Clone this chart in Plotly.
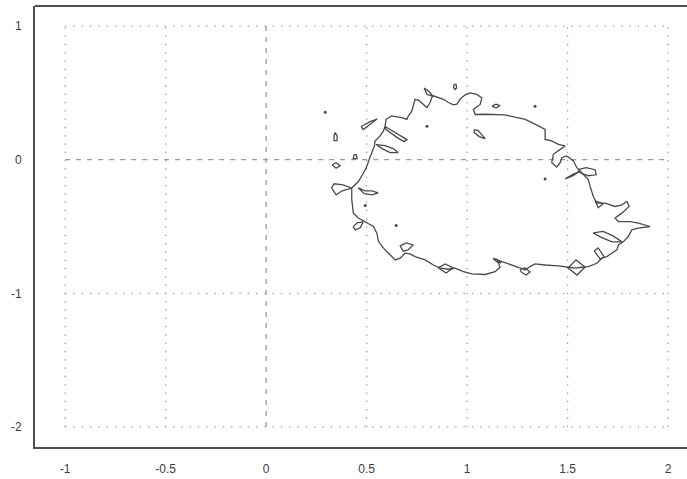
import plotly.graph_objects as go

# ---- data ----
x_ticks = [-1, -0.5, 0, 0.5, 1, 1.5, 2]
x_tick_labels = ["-1", "-0.5", "0", "0.5", "1", "1.5", "2"]
y_ticks = [-2, -1, 0, 1]
y_tick_labels = ["-2", "-1", "0", "1"]

main_x = [0.426, 0.458, 0.484, 0.501, 0.512, 0.526, 0.539, 0.542, 0.567, 0.584,
          0.592, 0.597, 0.625, 0.650, 0.675, 0.700, 0.708, 0.725, 0.733, 0.741,
          0.758, 0.783, 0.800, 0.816, 0.824, 0.832, 0.857, 0.882, 0.907, 0.932,
          0.949, 0.965, 0.990, 1.015, 1.048, 1.073, 1.065, 1.031, 1.040, 1.090,
          1.189, 1.289, 1.355, 1.388, 1.388, 1.421, 1.454, 1.488, 1.463, 1.429,
          1.421, 1.446, 1.463, 1.471, 1.496, 1.529, 1.546, 1.571, 1.603, 1.612,
          1.628, 1.645, 1.687, 1.736, 1.770, 1.795, 1.806, 1.770, 1.736, 1.753,
          1.811, 1.852, 1.910, 1.852, 1.819, 1.802, 1.778, 1.753, 1.745, 1.695,
          1.670, 1.645, 1.603, 1.571, 1.537, 1.504, 1.454, 1.388, 1.338, 1.313,
          1.289, 1.255, 1.222, 1.181, 1.148, 1.156, 1.164, 1.139, 1.090, 1.023,
          0.982, 0.940, 0.907, 0.866, 0.832, 0.791, 0.741, 0.716, 0.692, 0.667,
          0.642, 0.617, 0.584, 0.559, 0.551, 0.534, 0.493, 0.459, 0.434, 0.426,
          0.426, 0.426]
main_y = [-0.212, -0.165, -0.100, -0.050, 0.000, 0.053, 0.103, 0.140, 0.178, 0.215,
          0.253, 0.302, 0.328, 0.320, 0.315, 0.302, 0.328, 0.365, 0.420, 0.452,
          0.445, 0.415, 0.390, 0.428, 0.465, 0.478, 0.465, 0.452, 0.428, 0.410,
          0.415, 0.452, 0.485, 0.500, 0.488, 0.463, 0.413, 0.375, 0.338, 0.340,
          0.335, 0.302, 0.253, 0.227, 0.152, 0.140, 0.115, 0.103, 0.077, 0.040,
          -0.023, -0.055, -0.023, 0.015, 0.028, -0.010, -0.060, -0.098, -0.148, -0.200,
          -0.275, -0.325, -0.325, -0.350, -0.338, -0.313, -0.350, -0.400, -0.437, -0.463,
          -0.463, -0.475, -0.500, -0.512, -0.525, -0.575, -0.613, -0.638, -0.675, -0.725,
          -0.737, -0.775, -0.800, -0.805, -0.812, -0.805, -0.795, -0.788, -0.780, -0.800,
          -0.825, -0.805, -0.788, -0.763, -0.750, -0.775, -0.805, -0.838, -0.859, -0.855,
          -0.838, -0.812, -0.820, -0.812, -0.788, -0.750, -0.725, -0.705, -0.700, -0.737,
          -0.750, -0.712, -0.662, -0.613, -0.550, -0.500, -0.463, -0.437, -0.400, -0.300,
          -0.225, -0.212]

small_loops_x = [
    [0.786, 0.811, 0.831, 0.801, 0.786],
    [0.935, 0.945, 0.948, 0.940, 0.933, 0.935],
    [1.124, 1.144, 1.164, 1.144, 1.124],
    [1.035, 1.055, 1.090, 1.060, 1.035, 1.035],
    [0.473, 0.517, 0.552, 0.507, 0.483, 0.473],
    [0.343, 0.353, 0.353, 0.338, 0.338, 0.343],
    [0.592, 0.642, 0.682, 0.701, 0.687, 0.652, 0.597, 0.592],
    [0.547, 0.592, 0.632, 0.657, 0.617, 0.577, 0.547],
    [0.328, 0.348, 0.368, 0.348, 0.328],
    [0.438, 0.448, 0.453, 0.433, 0.438],
    [0.426, 0.383, 0.338, 0.326, 0.348, 0.378, 0.426],
    [0.458, 0.493, 0.527, 0.557, 0.527, 0.488, 0.458],
    [0.433, 0.453, 0.483, 0.468, 0.443, 0.433],
    [0.682, 0.667, 0.697, 0.731, 0.706, 0.682],
    [0.856, 0.891, 0.930, 0.896, 0.856],
    [1.129, 1.149, 1.169, 1.149, 1.129],
    [1.264, 1.289, 1.313, 1.294, 1.269, 1.264],
    [1.502, 1.542, 1.587, 1.547, 1.502],
    [1.632, 1.652, 1.682, 1.662, 1.632],
    [1.627, 1.677, 1.726, 1.771, 1.721, 1.662, 1.627],
    [1.637, 1.677, 1.652, 1.637],
    [1.552, 1.592, 1.637, 1.642, 1.602, 1.562, 1.552],
    [1.488, 1.522, 1.557, 1.527, 1.488],
]
small_loops_y = [
    [0.536, 0.510, 0.473, 0.488, 0.536],
    [0.563, 0.563, 0.536, 0.525, 0.540, 0.563],
    [0.401, 0.416, 0.405, 0.386, 0.401],
    [0.225, 0.218, 0.158, 0.173, 0.203, 0.225],
    [0.248, 0.285, 0.304, 0.255, 0.225, 0.248],
    [0.203, 0.180, 0.143, 0.143, 0.180, 0.203],
    [0.248, 0.203, 0.173, 0.150, 0.135, 0.165, 0.225, 0.248],
    [0.113, 0.105, 0.083, 0.053, 0.053, 0.083, 0.113],
    [-0.038, -0.023, -0.045, -0.064, -0.038],
    [0.038, 0.038, 0.008, 0.008, 0.038],
    [-0.212, -0.188, -0.180, -0.210, -0.263, -0.233, -0.212],
    [-0.210, -0.233, -0.233, -0.248, -0.263, -0.255, -0.210],
    [-0.503, -0.473, -0.465, -0.510, -0.525, -0.503],
    [-0.686, -0.645, -0.623, -0.638, -0.675, -0.686],
    [-0.810, -0.780, -0.810, -0.848, -0.810],
    [-0.739, -0.746, -0.773, -0.765, -0.739],
    [-0.818, -0.810, -0.840, -0.863, -0.840, -0.818],
    [-0.810, -0.750, -0.803, -0.863, -0.810],
    [-0.683, -0.660, -0.728, -0.743, -0.683],
    [-0.548, -0.536, -0.570, -0.615, -0.615, -0.578, -0.548],
    [-0.308, -0.330, -0.360, -0.308],
    [-0.075, -0.060, -0.075, -0.113, -0.120, -0.098, -0.075],
    [-0.143, -0.113, -0.090, -0.120, -0.143],
]

dots_x = [1.338, 0.294, 0.800, 0.493, 0.647, 1.388]
dots_y = [0.400, 0.355, 0.250, -0.343, -0.493, -0.145]

LINE = "#4a4a4a"
GRID = "#9a9a9a"
FRAME = "#505050"
TEXT = "#3c3c3c"

fig = go.Figure()

# grid (spans only the tick range, like the reference)
x_lo, x_hi = min(x_ticks), max(x_ticks)
y_lo, y_hi = min(y_ticks), max(y_ticks)
for xv in x_ticks:
    fig.add_shape(type="line", x0=xv, x1=xv, y0=y_lo, y1=y_hi, xref="x", yref="y",
                  line=dict(color=GRID, width=1.3, dash="5px,6px" if xv == 0 else "1.3px,7px"),
                  layer="below")
for yv in y_ticks:
    fig.add_shape(type="line", x0=x_lo, x1=x_hi, y0=yv, y1=yv, xref="x", yref="y",
                  line=dict(color=GRID, width=1.3, dash="5px,6px" if yv == 0 else "1.3px,7px"),
                  layer="below")

# contour curves
fig.add_trace(go.Scatter(x=main_x, y=main_y, mode="lines",
                         line=dict(color=LINE, width=1.3), hoverinfo="skip"))
lx, ly = [], []
for xs, ys in zip(small_loops_x, small_loops_y):
    lx += xs + [None]
    ly += ys + [None]
fig.add_trace(go.Scatter(x=lx, y=ly, mode="lines",
                         line=dict(color=LINE, width=1.3), hoverinfo="skip"))
fig.add_trace(go.Scatter(x=dots_x, y=dots_y, mode="markers",
                         marker=dict(color=LINE, size=3), hoverinfo="skip"))

# top frame line
fig.add_shape(type="line", xref="paper", yref="paper", x0=0, x1=1, y0=1, y1=1,
              line=dict(color=FRAME, width=2))

fig.update_layout(
    template="none",
    width=687, height=479,
    margin=dict(l=35, r=0, t=6, b=32),
    paper_bgcolor="white", plot_bgcolor="white",
    showlegend=False,
    font=dict(family="Liberation Sans, Arial, sans-serif", size=12, color=TEXT),
    xaxis=dict(range=[-1.15, 2.094], tickvals=x_ticks, ticktext=x_tick_labels,
               showgrid=False, zeroline=False, showline=True, linecolor=FRAME,
               linewidth=2, ticks="", ticklabelstandoff=10, fixedrange=True,
               automargin=False, tickfont=dict(color=TEXT, size=12)),
    yaxis=dict(range=[-2.15, 1.15], tickvals=y_ticks, ticktext=y_tick_labels,
               showgrid=False, zeroline=False, showline=True, linecolor=FRAME,
               linewidth=2, ticks="", ticklabelstandoff=9, fixedrange=True,
               automargin=False, tickfont=dict(color=TEXT, size=12)),
)

fig.write_html("out.html", config={"displayModeBar": False},
               post_script="document.body.style.margin='0px';document.body.style.padding='0px';")
